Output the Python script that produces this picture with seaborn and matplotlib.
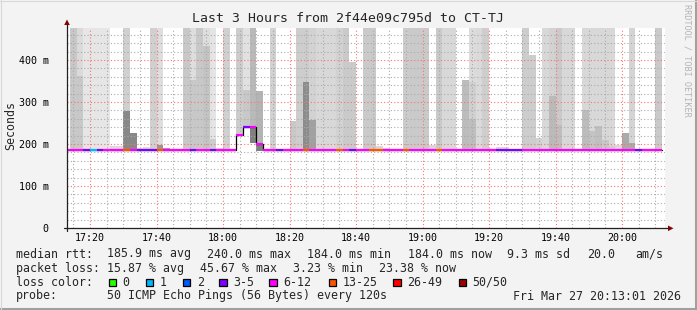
import numpy as np
import pandas as pd
import matplotlib
matplotlib.use("Agg")
import matplotlib.pyplot as plt
from matplotlib.patches import Rectangle, Polygon
import seaborn as sns

# ---------------- data ----------------
# bin start times (minutes after 17:00), 2-minute steps (120 s probe interval)
bin_start = list(range(12, 192, 2))

median_ms = [185] * 90
median_ms[26] = 222   # 18:04
median_ms[27] = 241   # 18:06
median_ms[28] = 241   # 18:08
median_ms[29] = 201   # 18:10

# loss class per bin
loss_class = (
    ["6-12", "6-12", "6-12", "3-5", "1", "3-5", "6-12", "6-12", "6-12", "13-25",
     "6-12", "3-5", "3-5", "3-5", "13-25", "6-12", "6-12", "6-12", "6-12", "3-5",
     "6-12", "6-12", "3-5", "6-12", "6-12", "6-12", "6-12", "3-5", "6-12", "6-12",
     "6-12", "6-12", "3-5", "6-12", "6-12", "6-12", "13-25", "6-12", "6-12", "6-12",
     "6-12", "13-25", "6-12", "3-5", "6-12", "6-12", "13-25", "13-25", "6-12", "6-12",
     "6-12", "13-25", "6-12", "6-12", "6-12", "6-12", "13-25", "6-12", "6-12", "6-12",
     "6-12", "6-12", "6-12", "6-12", "6-12", "3-5", "3-5", "3-5", "3-5", "6-12",
     "6-12", "6-12", "6-12", "6-12", "6-12", "6-12", "6-12", "6-12", "6-12", "6-12",
     "6-12", "6-12", "6-12", "6-12", "6-12", "6-12", "3-5", "6-12", "6-12", "6-12"]
)

N = None
# smoke: bottom of smoke, outer band top / grey level, inner band top / grey, innermost
smoke_lo = [N, 184, 184, 184, 184, 184, 184, 184, 184, 184,
            184, 184, 184, 184, 184, 184, 184, 184, 184, 184,
            184, 184, 184, 184, 184, N, 222, 241, 202, 184,
            N, 184, N, N, 184, 184, 184, 184, 184, 184,
            184, 184, 184, 184, N, 184, 184, 184, 184, N,
            N, 184, 184, 184, 184, 184, 184, 184, 184, N,
            184, 184, 184, 184, N, 184, 184, N, N, 184,
            184, 184, 184, 184, 184, 184, 184, 184, 184, 184,
            184, 184, 184, 184, 184, 184, N, N, 184, 184]
band1_top = [N, 500, 500, 500, 500, 500, 500, 195, 195, 500,
             226, 190, 194, 500, 500, 191, 188, 187, 500, 500,
             500, 500, 500, 190, 500, N, 500, 500, 500, 327,
             N, 500, N, N, 255, 500, 500, 500, 500, 500,
             500, 500, 500, 396, N, 500, 500, 195, 190, N,
             N, 500, 500, 500, 500, 197, 500, 500, 500, N,
             352, 500, 500, 500, N, 192, 192, N, N, 500,
             413, 215, 500, 500, 500, 500, 500, 187, 500, 500,
             500, 500, 500, 197, 226, 500, N, N, 187, 500]
band1_grey = [N, 200, 218, 230, 230, 230, 230, 220, 220, 208,
              136, 220, 220, 208, 222, 160, 220, 225, 200, 222,
              200, 222, 228, 225, 208, N, 205, 225, 185, 180,
              N, 210, N, N, 200, 205, 205, 210, 216, 216,
              216, 210, 202, 202, N, 202, 202, 215, 215, N,
              N, 204, 202, 202, 202, 215, 202, 216, 216, N,
              188, 220, 218, 206, N, 218, 218, N, N, 205,
              205, 210, 216, 210, 202, 216, 216, 218, 216, 216,
              216, 216, 216, 218, 170, 212, N, N, 218, 202]
band2_top = [N, N, 362, N, N, N, N, N, N, 279,
             N, N, N, N, 198, N, N, N, N, 352,
             N, 433, 213, N, N, N, N, 329, 241, 201,
             N, N, N, N, N, N, 348, 258, N, N,
             N, N, N, N, N, N, N, N, N, N,
             N, N, N, N, N, N, N, N, N, N,
             N, 347, N, N, N, N, N, N, N, N,
             N, N, N, 314, 245, N, N, N, 281, 230,
             244, 210, 196, N, N, 203, N, N, N, N]
band2_grey = [N, N, 200, N, N, N, N, N, N, 136,
              N, N, N, N, 150, N, N, N, N, 200,
              N, 196, 205, N, N, N, N, 200, 128, 128,
              N, N, N, N, N, N, 140, 160, N, N,
              N, N, N, N, N, N, N, N, N, N,
              N, N, N, N, N, N, N, N, N, N,
              N, 208, N, N, N, N, N, N, N, N,
              N, N, N, 186, 190, N, N, N, 188, 196,
              192, 200, 205, N, N, 170, N, N, N, N]
band3_top = [N] * 90
band3_grey = [N] * 90
band3_top[61] = 259
band3_grey[61] = 190

loss_colors = {"0": "#26ff00", "1": "#00b8ff", "2": "#0059ff", "3-5": "#7e00ff",
               "6-12": "#ff00ff", "13-25": "#ff5500", "26-49": "#ff0000",
               "50/50": "#a10000"}

y_ticks = [0, 100, 200, 300, 400]
y_tick_labels = ["0", "100 m", "200 m", "300 m", "400 m"]
x_ticks = [20, 40, 60, 80, 100, 120, 140, 160, 180]
x_tick_labels = ["17:20", "17:40", "18:00", "18:20", "18:40", "19:00", "19:20", "19:40", "20:00"]

title = "Last 3 Hours from 2f44e09c795d to CT-TJ"
legend_rows = [
    [(16, "median rtt:"), (107.3, "185.9 ms avg"), (207.3, "240.0 ms max"),
     (307.3, "184.0 ms min"), (407.7, "184.0 ms now"), (507.2, "9.3 ms sd"),
     (586.7, "20.0"), (635.7, "am/s")],
    [(16, "packet loss:"), (107.3, "15.87 % avg"), (200.3, "45.67 % max"),
     (293.3, "3.23 % min"), (379.3, "23.38 % now")],
    [(16, "loss color:")],
    [(16, "probe:"), (107.3, "50 ICMP Echo Pings (56 Bytes) every 120s"),
     (513.3, "Fri Mar 27 20:13:01 2026")],
]
loss_legend = [(108.7, "0"), (145.7, "1"), (182.7, "2"), (219.3, "3-5"),
               (269.3, "6-12"), (328.7, "13-25"), (393.3, "26-49"), (458.7, "50/50")]

# ---------------- drawing ----------------
sns.set_theme(style="white")
plt.rcParams['font.family'] = ['DejaVu Sans Mono', 'DejaVu Sans']

W, H = 697, 310
fig = plt.figure(figsize=(W / 100, H / 100), dpi=100, facecolor="#f3f3f3")


def fx(x):
    return x / W


def fy(y):
    return 1 - y / H


ax_l, ax_r, ax_t, ax_b = 66.8, 665.3, 28.0, 228.0
ax = fig.add_axes([fx(ax_l), fy(ax_b), (ax_r - ax_l) / W, (ax_b - ax_t) / H])
ax.set_facecolor("white")
for s in ax.spines.values():
    s.set_visible(False)
ax.set_xlim(13.017, 193.017)
ax.set_ylim(0, 476.2)

df = pd.DataFrame({"start": bin_start, "median": median_ms, "loss": loss_class,
                   "lo": smoke_lo, "t1": band1_top, "g1": band1_grey,
                   "t2": band2_top, "g2": band2_grey, "t3": band3_top, "g3": band3_grey})


def grey(v):
    v = int(v)
    return "#%02x%02x%02x" % (v, v, v)


for tcol, gcol in (("t1", "g1"), ("t2", "g2"), ("t3", "g3")):
    sub = df.dropna(subset=["lo", tcol])
    ax.bar(sub["start"], sub[tcol] - sub["lo"], bottom=sub["lo"], width=2,
           align="edge", color=[grey(g) for g in sub[gcol]], linewidth=0,
           antialiased=False, zorder=1)

# grid (dotted)
grid_dots = (0, (1, 2))
for v in range(20, 480, 20):
    major = v % 100 == 0
    ax.axhline(v, color="#ff7070" if major else "#aaaaaa", lw=0.8,
               ls=grid_dots, zorder=2)
for m in range(15, 193, 5):
    major = m % 20 == 0
    ax.axvline(m, color="#ff7070" if major else "#aaaaaa", lw=0.8,
               ls=grid_dots, zorder=2)

# median line (black steps) with loss-colored segments
steps = pd.DataFrame({"t": bin_start + [bin_start[-1] + 2],
                      "ms": median_ms + [median_ms[-1]]})
sns.lineplot(data=steps, x="t", y="ms", drawstyle="steps-post", color="black",
             lw=0.9, estimator=None, sort=False, ax=ax, zorder=3, legend=False)
ax.hlines(df["median"], df["start"], df["start"] + 2,
          colors=[loss_colors[c] for c in df["loss"]], lw=1.6, zorder=4)
ax.set_xlabel("")
ax.set_ylabel("")

# ticks
ax.set_yticks(y_ticks)
ax.set_yticklabels(y_tick_labels)
ax.set_xticks(x_ticks)
ax.set_xticklabels(x_tick_labels)
ax.tick_params(axis="y", length=0, pad=13, labelsize=7.2, labelcolor="black")
ax.tick_params(axis="x", length=0, pad=3.5, labelsize=7.2, labelcolor="black")
ax.set_yticks(range(0, 480, 20), minor=True)
ax.set_xticks(range(15, 193, 5), minor=True)
ax.tick_params(which="minor", length=0)

# axes lines and arrows (figure pixels)
fig.add_artist(plt.Line2D([fx(64), fx(668)], [fy(228.3), fy(228.3)],
                          color="#202020", lw=0.9))
fig.add_artist(plt.Line2D([fx(67), fx(67)], [fy(231), fy(24)],
                          color="#202020", lw=0.9))
fig.add_artist(Polygon([(fx(668), fy(225.5)), (fx(673.5), fy(228.3)), (fx(668), fy(231.1))],
                       closed=True, color="#8b0000", lw=0))
fig.add_artist(Polygon([(fx(64.2), fy(25)), (fx(67), fy(19.5)), (fx(69.8), fy(25))],
                       closed=True, color="#8b0000", lw=0))

# texts
fig.text(fx(348.5), fy(18.5), title, ha="center", va="center", fontsize=9.5)
fig.text(fx(10.5), fy(126), "Seconds", rotation=90, ha="center", va="center",
         fontsize=8.4)
fig.text(fx(687.5), fy(4), "RRDTOOL / TOBI OETIKER", rotation=-90, ha="center",
         va="top", fontsize=6.1, color="#b4b4b4")

row_y = [254, 268.3, 282.3, 296]
for yy, row in zip(row_y, legend_rows):
    for xx, txt in row:
        fig.text(fx(xx), fy(yy), txt, ha="left", va="center", fontsize=8.4)
for xx, lab in loss_legend:
    fig.add_artist(Rectangle((fx(xx), fy(286.2)), 7.3 / W, 7.6 / H,
                             facecolor=loss_colors[lab], edgecolor="black", lw=0.9))
    fig.text(fx(xx + 14), fy(282.3), lab, ha="left", va="center", fontsize=8.4)

# 3D frame
fig.add_artist(plt.Line2D([fx(0), fx(697)], [fy(308.5), fy(308.5)], color="#a0a0a0", lw=2.2))
fig.add_artist(plt.Line2D([fx(695.8), fx(695.8)], [fy(0), fy(310)], color="#a0a0a0", lw=2.2))
fig.add_artist(plt.Line2D([fx(0.5), fx(0.5)], [fy(0), fy(310)], color="#d8d8d8", lw=0.8))
fig.add_artist(plt.Line2D([fx(0), fx(697)], [fy(0.5), fy(0.5)], color="#d8d8d8", lw=0.8))

fig.savefig("out.png", dpi=100, facecolor=fig.get_facecolor())
